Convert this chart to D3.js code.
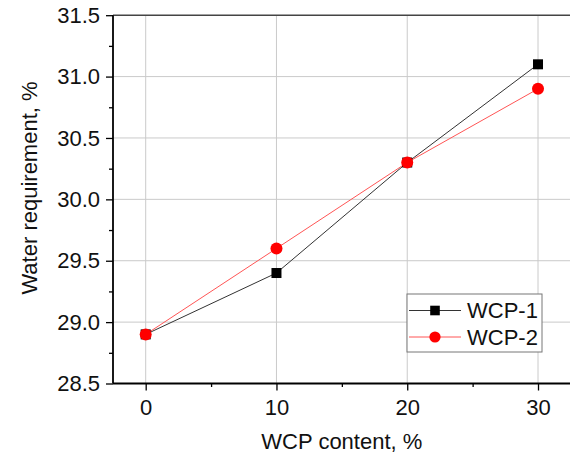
<!DOCTYPE html>
<html>
<head>
<meta charset="utf-8">
<script src="https://cdn.jsdelivr.net/npm/d3@7"></script>
<style>
html,body{margin:0;padding:0;background:#fff;}
svg{display:block;font-family:"Liberation Sans",Arial,sans-serif;}
</style>
</head>
<body>
<svg id="chart" width="570" height="457"></svg>
<script>
const categories = [0, 10, 20, 30];
const wcp1 = [28.9, 29.4, 30.3, 31.1];
const wcp2 = [28.9, 29.6, 30.3, 30.9];
const seriesNames = ["WCP-1", "WCP-2"];
const xTicks = [0, 10, 20, 30];
const xMinorTicks = [5, 15, 25];
const yTicks = [28.5, 29.0, 29.5, 30.0, 30.5, 31.0, 31.5];
const yMinorTicks = [28.75, 29.25, 29.75, 30.25, 30.75, 31.25];
const xTitle = "WCP content, %";
const yTitle = "Water requirement, %";

const svg = d3.select("#chart");
const L = 113, R = 570.7, T = 15.2, B = 383.5;
const x = d3.scaleLinear().domain([-2.5, 32.5]).range([L, R]);
const y = d3.scaleLinear().domain([28.5, 31.5]).range([B, T]);

// grid
const grid = svg.append("g");
grid.selectAll("line.v").data(xTicks).join("line")
  .attr("x1", d => x(d)).attr("x2", d => x(d)).attr("y1", T).attr("y2", B)
  .attr("stroke", "#cacaca").attr("stroke-width", 1);
grid.selectAll("line.h").data(yTicks.slice(1, -1)).join("line")
  .attr("x1", L).attr("x2", R).attr("y1", d => y(d)).attr("y2", d => y(d))
  .attr("stroke", "#cacaca").attr("stroke-width", 1);

// top frame
svg.append("line").attr("x1", L).attr("x2", 570).attr("y1", T).attr("y2", T)
  .attr("stroke", "#444").attr("stroke-width", 1.6);

// x axis
const xAxis = svg.append("g").attr("transform", `translate(0,${B})`)
  .call(d3.axisBottom(x).tickValues(xTicks).tickFormat(d3.format("d")).tickSize(7).tickPadding(9));
svg.append("g").attr("transform", `translate(0,${B})`)
  .call(d3.axisBottom(x).tickValues(xMinorTicks).tickFormat("").tickSize(3.5))
  .select(".domain").remove();
// y axis
const yAxis = svg.append("g").attr("transform", `translate(${L},0)`)
  .call(d3.axisLeft(y).tickValues(yTicks).tickFormat(d3.format(".1f")).tickSize(7).tickPadding(6));
svg.append("g").attr("transform", `translate(${L},0)`)
  .call(d3.axisLeft(y).tickValues(yMinorTicks).tickFormat("").tickSize(4))
  .select(".domain").remove();

svg.selectAll(".tick line").attr("stroke", "#000").attr("stroke-width", 1.3);
svg.selectAll(".domain").attr("stroke", "#000").attr("stroke-width", 1.8);
xAxis.select(".domain").attr("d", `M${L},0H570`);
yAxis.select(".domain").attr("d", `M0,${B}V${T}`);
svg.selectAll(".tick text").attr("font-size", 22).attr("fill", "#111")
  .attr("font-family", "Liberation Sans, Arial, sans-serif");

// titles
svg.append("text").attr("x", (L + R) / 2).attr("y", 449).attr("text-anchor", "middle")
  .attr("font-size", 22).attr("fill", "#111").text(xTitle);
svg.append("text").attr("transform", `translate(37,188) rotate(-90)`).attr("text-anchor", "middle")
  .attr("font-size", 22).attr("fill", "#111").text(yTitle);

// lines
const line = d3.line().x((d, i) => x(categories[i])).y(d => y(d));
svg.append("path").datum(wcp1).attr("d", line).attr("fill", "none")
  .attr("stroke", "#333").attr("stroke-width", 1);
svg.append("path").datum(wcp2).attr("d", line).attr("fill", "none")
  .attr("stroke", "#ff5555").attr("stroke-width", 1);

// markers
svg.append("g").selectAll("rect").data(wcp1).join("rect")
  .attr("x", (d, i) => x(categories[i]) - 5).attr("y", d => y(d) - 5)
  .attr("width", 10).attr("height", 10).attr("fill", "#000");
svg.append("g").selectAll("circle").data(wcp2).join("circle")
  .attr("cx", (d, i) => x(categories[i])).attr("cy", d => y(d))
  .attr("r", 6).attr("fill", "#ff0000");

// legend
const lg = svg.append("g");
lg.append("rect").attr("x", 407).attr("y", 294).attr("width", 135).attr("height", 58)
  .attr("fill", "#fff").attr("stroke", "#777").attr("stroke-width", 1);
const rows = [
  {name: seriesNames[0], color: "#333", y: 310.5, marker: "square"},
  {name: seriesNames[1], color: "#ff5555", y: 337, marker: "circle"}
];
rows.forEach(r => {
  lg.append("line").attr("x1", 409).attr("x2", 461).attr("y1", r.y).attr("y2", r.y)
    .attr("stroke", r.color).attr("stroke-width", 1);
  if (r.marker === "square") {
    lg.append("rect").attr("x", 435 - 4.8).attr("y", r.y - 4.8).attr("width", 9.6).attr("height", 9.6).attr("fill", "#000");
  } else {
    lg.append("circle").attr("cx", 435).attr("cy", r.y).attr("r", 5.6).attr("fill", "#ff0000");
  }
  lg.append("text").attr("x", 467).attr("y", r.y + 7.5).attr("font-size", 22).attr("fill", "#111").text(r.name);
});
</script>
</body>
</html>
